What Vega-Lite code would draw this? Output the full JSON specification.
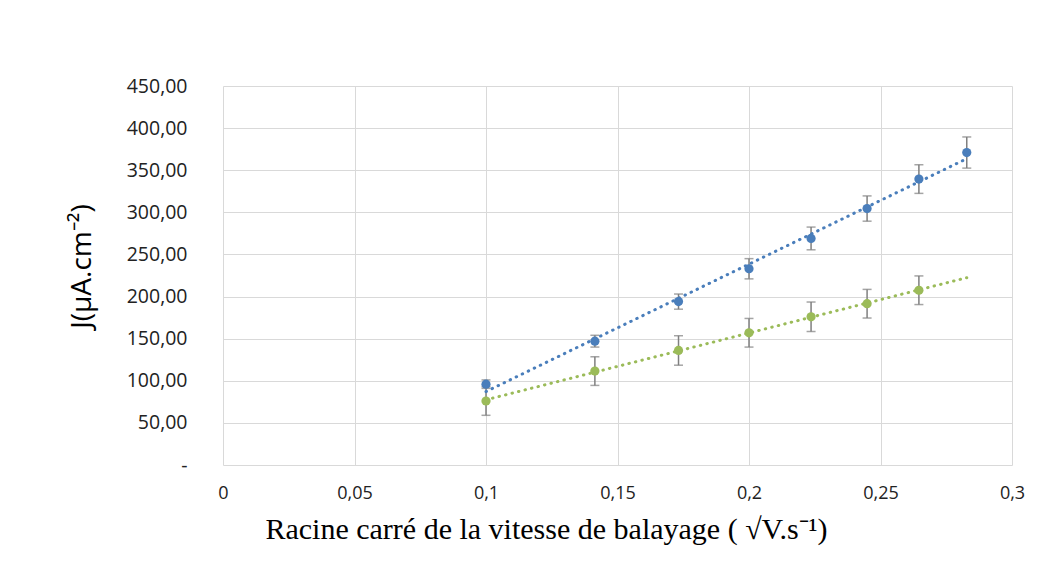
{
  "$schema": "https://vega.github.io/schema/vega-lite/v6.json",
  "autosize": {"type": "none"},
  "width": 789,
  "height": 379,
  "padding": {"left": 223, "top": 86, "right": 27, "bottom": 123},
  "background": "white",
  "config": {"view": {"stroke": null}},
  "data": {"values": [
    {"x": 0.1, "J": 96, "err": 5, "serie": "A"},
    {"x": 0.1414, "J": 147, "err": 7, "serie": "A"},
    {"x": 0.1732, "J": 194, "err": 9, "serie": "A"},
    {"x": 0.2, "J": 233, "err": 12, "serie": "A"},
    {"x": 0.2236, "J": 269, "err": 13.5, "serie": "A"},
    {"x": 0.2449, "J": 304.5, "err": 15, "serie": "A"},
    {"x": 0.2646, "J": 339.5, "err": 17, "serie": "A"},
    {"x": 0.2828, "J": 371, "err": 18.5, "serie": "A"},
    {"x": 0.1, "J": 76, "err": 17, "serie": "B"},
    {"x": 0.1414, "J": 111.5, "err": 17, "serie": "B"},
    {"x": 0.1732, "J": 136, "err": 17.5, "serie": "B"},
    {"x": 0.2, "J": 157, "err": 17, "serie": "B"},
    {"x": 0.2236, "J": 176, "err": 17.5, "serie": "B"},
    {"x": 0.2449, "J": 191.5, "err": 17, "serie": "B"},
    {"x": 0.2646, "J": 207.5, "err": 17, "serie": "B"}
  ]},
  "encoding": {
    "x": {
      "field": "x", "type": "quantitative",
      "scale": {"domain": [0, 0.3], "nice": false, "zero": false},
      "axis": {
        "values": [0, 0.05, 0.1, 0.15, 0.2, 0.25, 0.3],
        "labelExpr": "replace(format(datum.value, '~g'), '.', ',')",
        "labelFont": "Open Sans", "labelFontSize": 18, "labelColor": "#222222",
        "labelFlush": false, "labelPadding": 19, "ticks": false, "domain": false,
        "grid": true, "gridColor": "#d9d9d9", "gridWidth": 1,
        "title": "Racine carré de la vitesse de balayage ( √V.s⁻¹)",
        "titleFont": "Liberation Serif", "titleFontSize": 30, "titleFontWeight": "normal",
        "titleColor": "#000000", "titlePadding": 12, "titleX": 323
      }
    },
    "y": {
      "field": "J", "type": "quantitative",
      "scale": {"domain": [0, 450], "nice": false},
      "axis": {
        "values": [0, 50, 100, 150, 200, 250, 300, 350, 400, 450],
        "labelExpr": "datum.value == 0 ? '-' : replace(format(datum.value, '.2f'), '.', ',')",
        "labelFont": "Open Sans", "labelFontSize": 19.5, "labelColor": "#222222",
        "labelPadding": 36, "ticks": false, "domain": false,
        "grid": true, "gridColor": "#d9d9d9", "gridWidth": 1,
        "title": "J(µA.cm⁻²)",
        "titleFont": "Open Sans", "titleFontSize": 28, "titleFontWeight": "normal",
        "titleColor": "#000000", "titlePadding": 30, "titleY": 180
      }
    }
  },
  "layer": [
    {
      "mark": {"type": "errorbar", "ticks": {"size": 9, "color": "#7f7f7f", "thickness": 1.5}, "rule": {"color": "#7f7f7f", "strokeWidth": 1.5}},
      "encoding": {
        "yError": {"field": "err"},
        "detail": {"field": "serie"}
      }
    },
    {
      "transform": [{"regression": "J", "on": "x", "groupby": ["serie"], "extent": [0.1, 0.2828]}],
      "mark": {"type": "line", "strokeWidth": 3, "strokeDash": [0.5, 6.2], "strokeCap": "round"},
      "encoding": {
        "color": {"field": "serie", "type": "nominal", "scale": {"domain": ["A", "B"], "range": ["#4a7ebb", "#9bbb59"]}, "legend": null}
      }
    },
    {
      "mark": {"type": "circle", "size": 85, "opacity": 1},
      "encoding": {
        "color": {"field": "serie", "type": "nominal", "scale": {"domain": ["A", "B"], "range": ["#4a7ebb", "#9bbb59"]}, "legend": null}
      }
    }
  ]
}
